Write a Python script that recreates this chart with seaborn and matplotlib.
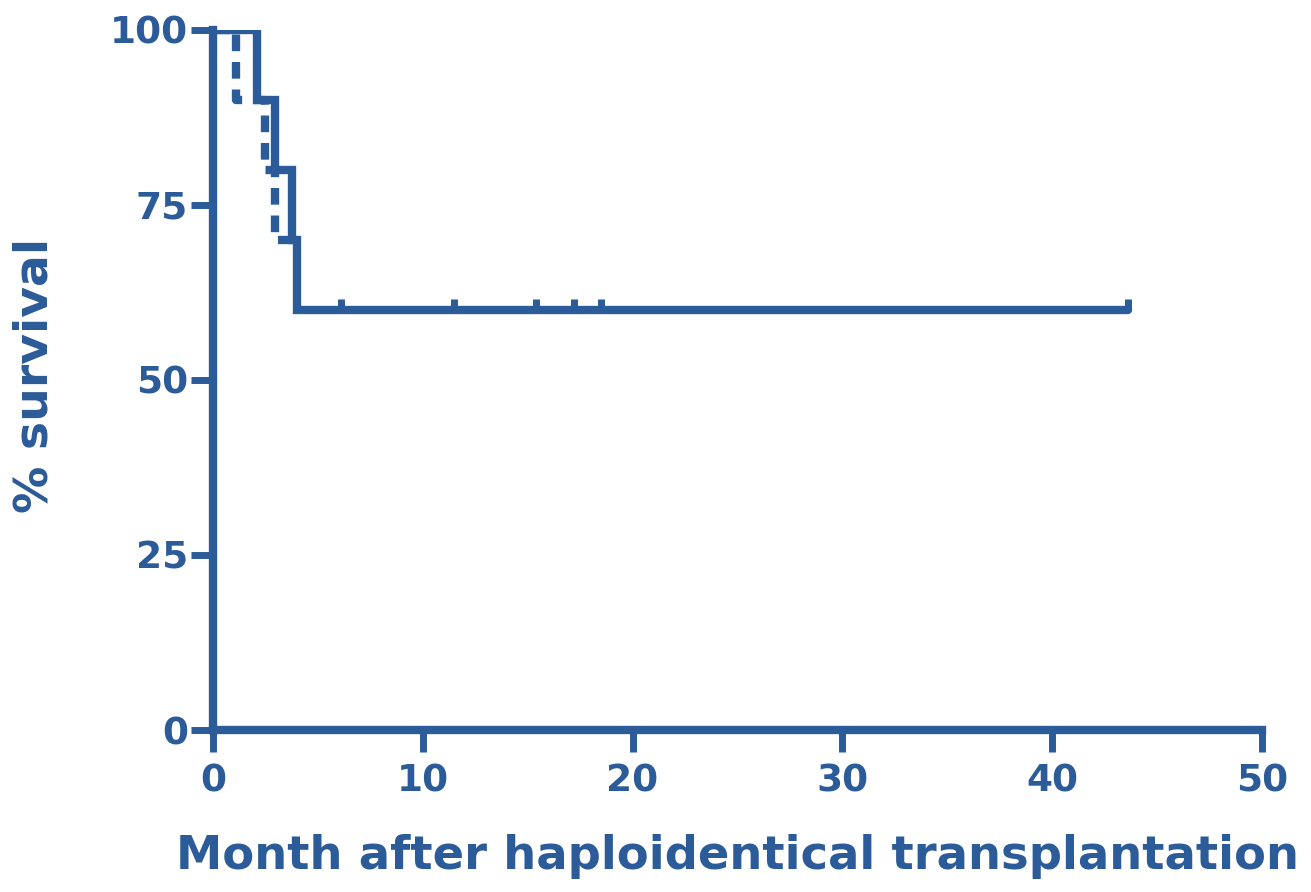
import matplotlib
matplotlib.use("Agg")
import matplotlib.pyplot as plt
import seaborn as sns
import pandas as pd

# Solid curve (step, post)
solid_time = [0, 2.1, 2.95, 3.75, 4.0, 43.6]
solid_surv = [100, 90, 80, 70, 60, 60]
# Dashed curve (step, post)
dashed_time = [0, 1.1, 2.5, 2.95, 4.0]
dashed_surv = [100, 90, 80, 70, 70]
# Censor marks
censor_time = [6.1, 11.5, 15.4, 17.2, 18.5, 43.6]
censor_surv = [60, 60, 60, 60, 60, 60]

x_ticks = [0, 10, 20, 30, 40, 50]
y_ticks = [0, 25, 50, 75, 100]

C = "#2b5b98"

sns.set_theme(style="ticks")
plt.rcParams['font.family'] = ['DejaVu Sans']
plt.rcParams['font.weight'] = 'bold'

fig = plt.figure(figsize=(13.11, 8.92), dpi=100)
ax = fig.add_axes([0.1625, 0.1816, 0.8, 0.785])

def steps(t, s):
    xs, ys = [], []
    for i in range(len(t)):
        if i > 0:
            xs.append(t[i]); ys.append(s[i-1])
        xs.append(t[i]); ys.append(s[i])
    return pd.DataFrame({"t": xs, "s": ys})

d1 = steps(solid_time, solid_surv)
d2 = steps(dashed_time, dashed_surv)
sns.lineplot(data=d2, x="t", y="s", sort=False, ax=ax, color=C, lw=6,
             linestyle=(0, (2, 1.3)), estimator=None)
sns.lineplot(data=d1, x="t", y="s", sort=False, ax=ax, color=C, lw=6,
             estimator=None, solid_joinstyle="miter")
cdf = pd.DataFrame({"t": censor_time, "s": censor_surv})
sns.scatterplot(data=cdf, x="t", y="s", ax=ax, marker=[(0, 0), (0, 1)],
                s=250, color=C, edgecolor=C, linewidth=5)

ax.set_xlim(0, 50)
ax.set_ylim(0, 100)
ax.set_xticks(x_ticks)
ax.set_yticks(y_ticks)
for side in ["top", "right"]:
    ax.spines[side].set_visible(False)
for side in ["left", "bottom"]:
    ax.spines[side].set_color(C)
    ax.spines[side].set_linewidth(6)
    ax.spines[side].set_capstyle("projecting")
ax.tick_params(axis="both", colors=C, width=5, length=16, labelsize=27)
ax.tick_params(axis="y", pad=2)
ax.tick_params(axis="x", pad=8)
for lab in ax.get_xticklabels() + ax.get_yticklabels():
    lab.set_fontweight("bold")
ax.set_xlabel("Month after haploidentical transplantation", color=C,
              fontsize=33.5, fontweight="bold")
ax.set_ylabel("% survival", color=C, fontsize=34, fontweight="bold")
ax.yaxis.set_label_coords(-0.148, 0.507)
ax.xaxis.set_label_coords(0.5, -0.148)

fig.savefig("out.png", dpi=100)
